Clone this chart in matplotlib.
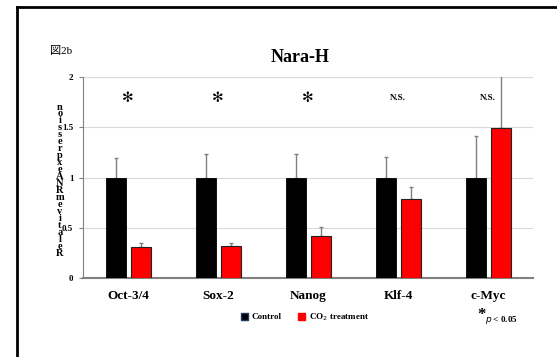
import matplotlib.pyplot as plt
import numpy as np
from matplotlib.patches import Patch
from matplotlib.lines import Line2D

# data
genes = ["Oct-3/4", "Sox-2", "Nanog", "Klf-4", "c-Myc"]
control = [1.0, 1.0, 1.0, 1.0, 1.0]
control_err = [0.19, 0.235, 0.23, 0.20, 0.41]
co2 = [0.31, 0.32, 0.42, 0.79, 1.49]
co2_err = [0.04, 0.03, 0.09, 0.12, 0.60]
marks = ["✻", "✻", "✻", "N.S.", "N.S."]
ylabel = "Relative mRNA expression"

serif = ["Liberation Serif", "DejaVu Serif"]
plt.rcParams["font.family"] = serif

fig = plt.figure(figsize=(5.57, 3.57), dpi=100)
ax = fig.add_axes([0.149, 0.2213, 0.808, 0.563])

x = np.arange(len(genes))
w = 0.222
ax.bar(x - 0.133, control, w, color="black", edgecolor="black", lw=0.6, zorder=3)
ax.bar(x + 0.144, co2, w, color="#ff0000", edgecolor="#222222", lw=0.8, zorder=3)
zeros = [0] * len(genes)
ax.errorbar(x - 0.133, control, yerr=[zeros, control_err], fmt="none",
            ecolor="#808080", elinewidth=1, capsize=1.5, capthick=1, zorder=2)
ax.errorbar(x + 0.144, co2, yerr=[zeros, co2_err], fmt="none",
            ecolor="#808080", elinewidth=1, capsize=1.5, capthick=1, zorder=2)

ax.set_xlim(-0.5, 4.5)
ax.set_ylim(0, 2)
ax.set_yticks([0, 0.5, 1, 1.5, 2])
ax.set_yticklabels(["0", "0.5", "1", "1.5", "2"], fontweight="bold", fontsize=6.5)
ax.yaxis.grid(True, color="#d9d9d9", lw=0.8, zorder=0)
ax.set_axisbelow(True)
ax.set_xticks(x)
ax.set_xticklabels(genes, fontweight="bold", fontsize=9.5)
ax.tick_params(axis="x", length=0, pad=9)
ax.tick_params(axis="y", length=3, color="#808080", pad=4)
for s in ["top", "right"]:
    ax.spines[s].set_visible(False)
ax.spines["left"].set_color("#808080")
ax.spines["bottom"].set_color("#808080")
ax.spines["bottom"].set_linewidth(1.5)

for xi, m in zip(x, marks):
    if m == "N.S.":
        ax.text(xi, 1.79, m, ha="center", va="center", fontsize=6.5,
                fontweight="bold")
    else:
        ax.text(xi, 1.79, m, ha="center", va="center", fontsize=10,
                fontweight="bold", family="DejaVu Sans")

# stacked y label, characters bottom to top
chars = [c for c in ylabel if c != " "]
ys = np.linspace(253, 107, len(chars))
for c, yy in zip(chars, ys):
    fig.text(60 / 557, 1 - yy / 357, c, ha="center", va="center",
             fontsize=7.5, fontweight="bold")

fig.text(300 / 557, 1 - 58 / 357, "Nara-H", ha="center", va="center",
         fontsize=13, fontweight="bold")
fig.text(50 / 557, 1 - 51 / 357, "図2b", ha="left", va="center", fontsize=8,
         family=["Liberation Serif", "Noto Sans CJK JP"])

handles = [Patch(facecolor="black", edgecolor="#1f3864", label="Control"),
           Patch(facecolor="#ff0000", edgecolor="#ff0000", label="CO$_2$ treatment")]
fig.legend(handles=handles, loc="center", bbox_to_anchor=(305 / 557, 1 - 317 / 357),
           ncol=2, frameon=False, handlelength=0.8, handleheight=0.8,
           handletextpad=0.4, columnspacing=1.8,
           prop={"weight": "bold", "size": 6.5, "family": serif})

fig.text(477 / 557, 1 - 315 / 357, "*", ha="left", va="center", fontsize=12,
         fontweight="bold")
fig.text(485 / 557, 1 - 320 / 357, "$\\it{p}$ < 0.05", ha="left", va="center",
         fontsize=6.5, fontweight="bold")

# frame around the figure (left and top edges)
fig.lines.append(Line2D([17 / 557, 17 / 557], [0, 1 - 7 / 357], transform=fig.transFigure,
                        color="black", lw=2))
fig.lines.append(Line2D([17 / 557, 1], [1 - 7 / 357, 1 - 7 / 357], transform=fig.transFigure,
                        color="black", lw=2))

fig.savefig("out.png", dpi=100)
